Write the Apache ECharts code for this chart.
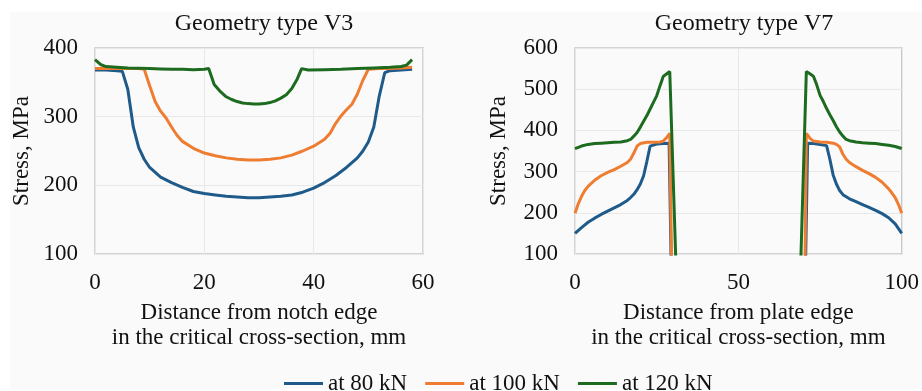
<!DOCTYPE html>
<html>
<head>
<meta charset="utf-8">
<script src="https://cdn.jsdelivr.net/npm/echarts@6/dist/echarts.min.js"></script>
<style>
html,body{margin:0;padding:0;background:#ffffff;}
#chart{width:922px;height:391px;}
</style>
</head>
<body>
<div id="chart"></div>
<script>
// ---- data ----
var titles = ['Geometry type V3', 'Geometry type V7'];
var seriesNames = ['at 80 kN', 'at 100 kN', 'at 120 kN'];
var xNameV3 = 'Distance from notch edge\nin the critical cross-section, mm';
var xNameV7 = 'Distance from plate edge\nin the critical cross-section, mm';
var yName = 'Stress, MPa';

var v3_80 = [[0,368],[2,368],[4,367],[5,366],[6,340],[7,285],[8,255],[9,238],[10,226],[12,212],[14,204],[16,197],[18,191],[20,188],[22,186],[24,184],[26,183],[28,182],[30,182],[32,183],[34,184],[36,186],[38,190],[40,196],[42,204],[44,214],[46,226],[48,240],[49,250],[50,263],[51,285],[52,330],[53,364],[54,367],[56,368],[58,369]];
var v3_100 = [[0,370],[2,370],[4,370],[6,370],[8,370],[9,369],[10,345],[11,322],[12,308],[13,298],[14,285],[15,273],[16,264],[18,254],[20,247],[22,243],[24,240],[26,238],[28,237],[30,237],[32,238],[34,240],[36,244],[38,250],[40,257],[42,267],[43,276],[44,290],[45,301],[46,310],[47,318],[48,333],[49,353],[50,369],[52,370],[54,370],[56,371],[58,372]];
var v3_120 = [[0,383],[1,376],[2,373],[4,372],[6,371],[8,370.5],[10,370],[12,369.5],[14,369],[16,369],[18,368.5],[20,369],[20.8,370],[21.8,347],[23,336],[24,329],[25,325],[26,322],[27,320],[28,319],[29,318.5],[30,318.5],[31,319],[32,320.5],[33,323],[34,327],[35,332],[36,341],[37,355],[37.8,370],[39,368],[42,368.5],[45,369],[48,370],[51,371],[54,372],[56,373],[57,375],[58,383]];

var v7_80 = [[0,150],[2,164],[4,177],[6,187],[8,196],[10,204],[12,212],[14,220],[16,230],[17,237],[18,245],[19,256],[20,270],[21,290],[22,325],[23,362],[25,367],[27,368],[28.8,369],[29.6,0],[50,'-'],[70.4,0],[71.2,369],[73,368],[75,366],[77,363],[78,330],[79,292],[80,270],[81,254],[82,244],[84,234],[86,227],[88,220],[90,213],[92,206],[94,198],[96,188],[98,173],[100,150]];
var v7_100 = [[0,199],[1,222],[2,240],[3,254],[4,264],[6,279],[8,290],[10,298],[12,305],[14,313],[16,322],[17,330],[18,345],[19,362],[20,368],[22,371],[24,371],[26,372],[27,374],[28,382],[29,393],[29.7,0],[50,'-'],[70.3,0],[70.8,393],[72,380],[73,374],[75,372],[77,371],[79,369],[80,366],[81,360],[82,342],[83,330],[84,322],[86,312],[88,303],[90,295],[92,286],[94,274],[96,258],[97,248],[98,237],[99,220],[100,199]];
var v7_120 = [[0,356],[2,362],[4,366],[6,368],[8,369],[10,370],[12,371],[14,372],[16,375],[17,378],[18,386],[19,395],[20,408],[21,422],[22,436],[23,452],[24,468],[25,484],[26,508],[27,531],[28,537],[29,543],[31.2,0],[50,'-'],[68.8,0],[70.8,543],[72,537],[73,531],[74,510],[75,485],[76,470],[77,453],[78,438],[79,424],[80,409],[81,396],[82,386],[83,378],[84,375],[86,372],[88,370],[90,369],[92,368],[94,366],[96,364],[98,361],[100,356]];

var colors = ['#1f5b8a', '#ee7d31', '#1c6b1f'];
var font = 'Liberation Serif, Times New Roman, serif';
var fs = 23;
var fsTitle = 24;

var chart = echarts.init(document.getElementById('chart'), null, {renderer: 'canvas'});

function xAxis(idx, max, interval, name) {
  return {
    type: 'value', gridIndex: idx, min: 0, max: max, interval: interval,
    name: name, nameLocation: 'middle', nameGap: 46,
    nameTextStyle: {fontFamily: font, fontSize: fs, color: '#111', lineHeight: 25},
    axisLine: {show: false}, axisTick: {show: false},
    axisLabel: {fontFamily: font, fontSize: fs, color: '#111', margin: 17},
    splitLine: {show: true, lineStyle: {color: '#e8e8e8', width: 1}}
  };
}
function yAxis(idx, min, max, gap) {
  return {
    type: 'value', gridIndex: idx, min: min, max: max, interval: 100,
    name: yName, nameLocation: 'middle', nameGap: gap, nameRotate: 90,
    nameTextStyle: {fontFamily: font, fontSize: fs, color: '#111'},
    axisLine: {show: false}, axisTick: {show: false},
    axisLabel: {fontFamily: font, fontSize: fs, color: '#111', margin: 17},
    splitLine: {show: true, lineStyle: {color: '#e8e8e8', width: 1}}
  };
}
function line(name, data, idx, color) {
  return {
    name: name, type: 'line', xAxisIndex: idx, yAxisIndex: idx, data: data,
    showSymbol: false, symbol: 'none', smooth: false, clip: true,
    lineStyle: {color: color, width: 3}, itemStyle: {color: color},
    connectNulls: false, animation: false
  };
}

chart.setOption({
  animation: false,
  backgroundColor: '#ffffff',
  color: colors,
  graphic: [{type: 'rect', z: -10, shape: {x: 10, y: 12, width: 912, height: 377}, style: {fill: '#fafafa'}}],
  title: [
    {text: titles[0], left: 259, top: 7, textAlign: 'center', textStyle: {fontFamily: font, fontSize: fsTitle, fontWeight: 'normal', color: '#111'}},
    {text: titles[1], left: 739, top: 7, textAlign: 'center', textStyle: {fontFamily: font, fontSize: fsTitle, fontWeight: 'normal', color: '#111'}}
  ],
  legend: {
    left: 279, top: 367, itemWidth: 39, itemHeight: 3, itemGap: 18, icon: 'rect',
    textStyle: {fontFamily: font, fontSize: fs, color: '#111'},
    data: seriesNames
  },
  grid: [
    {left: 95, top: 48, width: 328, height: 206, show: true, borderColor: '#c8c8c8', borderWidth: 1.5, backgroundColor: 'transparent'},
    {left: 575, top: 48, width: 328, height: 206, show: true, borderColor: '#c8c8c8', borderWidth: 1.5, backgroundColor: 'transparent'}
  ],
  xAxis: [xAxis(0, 60, 20, xNameV3), xAxis(1, 100, 50, xNameV7)],
  yAxis: [yAxis(0, 100, 400, 62), yAxis(1, 100, 600, 65)],
  series: [
    line(seriesNames[0], v3_80, 0, colors[0]),
    line(seriesNames[1], v3_100, 0, colors[1]),
    line(seriesNames[2], v3_120, 0, colors[2]),
    line(seriesNames[0], v7_80, 1, colors[0]),
    line(seriesNames[1], v7_100, 1, colors[1]),
    line(seriesNames[2], v7_120, 1, colors[2])
  ]
});
</script>
</body>
</html>
